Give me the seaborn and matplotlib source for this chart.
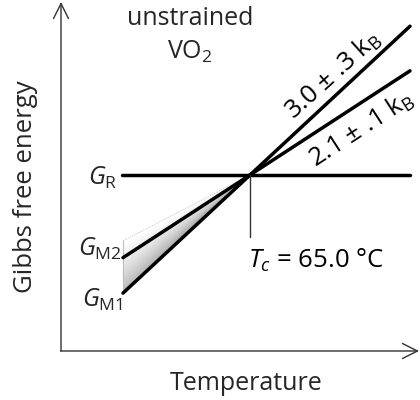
import numpy as np
import pandas as pd
import matplotlib
matplotlib.use("Agg")
import matplotlib.pyplot as plt
from matplotlib.patches import Polygon
import seaborn as sns

# Schematic free-energy lines around the transition temperature
T_c = 65.0                      # transition temperature, degC
entropy = [3.0, 2.1]            # slopes (kB) of the two monoclinic phases
entropy_err = [".3", ".1"]
phase_labels = ["M1", "M2"]
T_start, T_end = 14.2, 129.0    # temperature span of the drawn lines
G_R_level = 0.0                 # rutile reference level

sns.set_theme(style="white")
plt.rcParams["font.family"] = ["Open Sans", "DejaVu Sans"]
plt.rcParams["mathtext.fontset"] = "custom"
plt.rcParams["mathtext.rm"] = "Open Sans"
plt.rcParams["mathtext.it"] = "Open Sans:italic"

W, H = 420, 400
fig = plt.figure(figsize=(W / 100, H / 100), dpi=100)
ax = fig.add_axes([0, 0, 1, 1])

# pixel <-> data mapping helpers (pixel y measured from top)
px_per_T = 2.5
px_per_G = 0.775
x0_px, y0_px = 250, 175
ax.set_xlim(T_c - x0_px / px_per_T, T_c + (W - x0_px) / px_per_T)
ax.set_ylim(-(H - y0_px) / px_per_G, y0_px / px_per_G)
ax.axis("off")

def fx(px):
    return px / W

def fy(py):
    return 1 - py / H

# long-form table of the three lines
T = np.array([T_start, T_end])
rows = []
for s, lab in zip(entropy, phase_labels):
    for t in T:
        rows.append({"T": t, "G": s * (t - T_c), "phase": lab})
for t in [14.0, T_end]:
    rows.append({"T": t, "G": G_R_level, "phase": "R"})
df = pd.DataFrame(rows)

# gradient wedge between the two monoclinic lines
G_top_left = -85.0
T_left = T_start
G_m1_left = entropy[0] * (T_left - T_c)
tri = np.array([[T_left, G_top_left], [T_left, G_m1_left], [T_c, G_R_level]])
tt = np.linspace(T_left, T_c, 300)
gg = np.linspace(G_m1_left, 0, 300)
TT, GG = np.meshgrid(tt, gg)
slope_top = (G_R_level - G_top_left) / (T_c - T_left)
g_top = G_top_left + slope_top * (TT - T_left)
g_bot = entropy[0] * (TT - T_c)
frac = np.clip((g_top - GG) / np.maximum(g_top - g_bot, 1e-6), 0, 1)
shade = 1 - 0.45 * frac ** 1.3 * (0.6 + 0.4 * (TT - T_left) / (T_c - T_left))
im = ax.imshow(shade, extent=[T_left, T_c, G_m1_left, 0], origin="lower",
               cmap="gray", vmin=0, vmax=1, aspect="auto", zorder=1)
clip = Polygon(tri, closed=True, transform=ax.transData, facecolor="none",
               edgecolor="none")
ax.add_patch(clip)
im.set_clip_path(clip)
ax.plot([T_left, T_c], [G_top_left, G_R_level], color="#d0d0d0", lw=0.6,
        ls=(0, (2, 1)), zorder=2)
ax.plot([T_left, T_left], [G_top_left, G_m1_left], color="#bbbbbb", lw=0.8,
        zorder=2)

sns.lineplot(data=df, x="T", y="G", units="phase", estimator=None,
             color="black", lw=2.5, ax=ax, zorder=3, legend=False)

# T_c marker
ax.plot([T_c, T_c], [G_R_level, -62 / px_per_G], color="#333333", lw=1.0,
        zorder=3)

# axes with open arrowheads
arrow = dict(arrowstyle="->,head_length=0.9,head_width=0.45", color="#333333",
             lw=1.0, shrinkA=0, shrinkB=0)
ax.annotate("", xy=(fx(61), fy(2)), xytext=(fx(61), fy(351)),
            xycoords="axes fraction", textcoords="axes fraction",
            arrowprops=arrow)
ax.annotate("", xy=(fx(419), fy(351)), xytext=(fx(60.5), fy(351)),
            xycoords="axes fraction", textcoords="axes fraction",
            arrowprops=arrow)

tc = "#262626"
fs = 18
ax.text(fx(190), fy(25), "unstrained", ha="center", va="baseline",
        fontsize=fs, color=tc, transform=ax.transAxes)
ax.text(fx(190), fy(59), r"VO$_2$", ha="center", va="baseline",
        fontsize=fs, color=tc, transform=ax.transAxes)
ax.text(fx(26), fy(187), "Gibbs free energy", ha="center", va="center",
        rotation=90, fontsize=18.5, color=tc, transform=ax.transAxes)
ax.text(fx(246), fy(390), "Temperature", ha="center", va="baseline",
        fontsize=fs, color=tc, transform=ax.transAxes)
ax.text(fx(118), fy(185), r"$G_\mathrm{R}$", ha="right", va="baseline",
        fontsize=fs, color=tc, transform=ax.transAxes)
ax.text(fx(122), fy(256), r"$G_\mathrm{M2}$", ha="right", va="baseline",
        fontsize=fs, color=tc, transform=ax.transAxes)
ax.text(fx(123), fy(307), r"$G_\mathrm{M1}$", ha="right", va="baseline",
        fontsize=fs, color=tc, transform=ax.transAxes)
ax.text(fx(248), fy(268), r"$T_c$ = %.1f °C" % T_c, ha="left",
        va="baseline", fontsize=18.5, color="black", transform=ax.transAxes)

ax.text(fx(333), fy(75), r"%.1f ± %s k$_\mathrm{B}$" % (entropy[0], entropy_err[0]),
        ha="center", va="center", rotation=42, rotation_mode="anchor",
        fontsize=18.5, color="black", transform=ax.transAxes)
ax.text(fx(361), fy(129), r"%.1f ± %s k$_\mathrm{B}$" % (entropy[1], entropy_err[1]),
        ha="center", va="center", rotation=33, rotation_mode="anchor",
        fontsize=18.5, color="black", transform=ax.transAxes)

fig.savefig("out.png", dpi=100)
